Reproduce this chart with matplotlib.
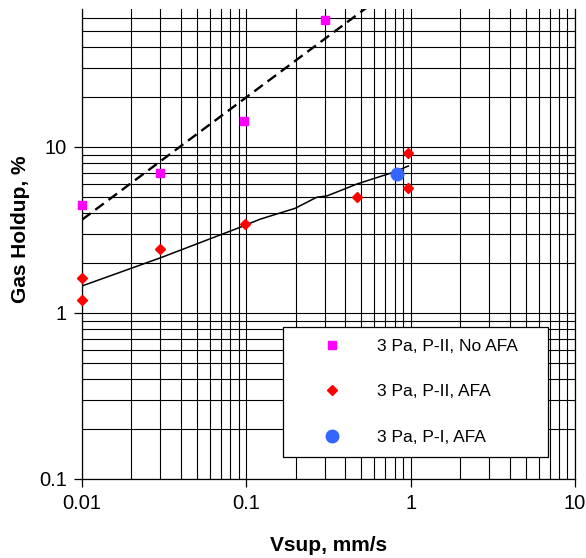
import numpy as np
import matplotlib
matplotlib.use('Agg')
import matplotlib.pyplot as plt
from matplotlib.ticker import LogLocator, NullFormatter, FixedLocator, FixedFormatter

plt.rcParams.update({
    'font.family': ['Liberation Sans', 'DejaVu Sans'],
    'font.size': 14,
    'axes.linewidth': 0.9,
})

# ── data ─────────────────────────────────────────────────────────────────────
v_noafa = [0.01, 0.03, 0.097, 0.30]
h_noafa = [4.5, 7.0, 14.3, 58.0]

v_afa2 = [0.01, 0.01, 0.03, 0.098, 0.47, 0.97, 0.97]
h_afa2 = [1.62, 1.19, 2.42, 3.45, 5.0, 9.2, 5.7]

v_afa1 = [0.82]
h_afa1 = [6.9]

# solid model curve (traced)
v_model = [0.01, 0.0306, 0.0915, 0.121, 0.146, 0.198, 0.268, 0.309,
           0.372, 0.470, 0.593, 0.785, 0.968]
h_model = [1.455, 2.165, 3.28, 3.67, 3.89, 4.27, 4.98, 5.07,
           5.45, 5.98, 6.44, 7.04, 7.68]

# dashed power-law trendline through the No-AFA points
b, a = np.polyfit(np.log10(v_noafa), np.log10(h_noafa), 1)
v_trend = np.array([0.01, 1.0])
h_trend = 10 ** a * v_trend ** b

# ── figure ───────────────────────────────────────────────────────────────────
fig = plt.figure(figsize=(5.86, 5.58), dpi=100)
ax = fig.add_axes([82 / 586, 1 - 479 / 558, 493 / 586, 470 / 558])
ax.set_xscale('log')
ax.set_yscale('log')
ax.set_xlim(0.01, 10)
ax.set_ylim(0.1, 67.8)

# grid: every major + minor line, black
ax.xaxis.set_minor_locator(LogLocator(base=10, subs=np.arange(2, 10)))
ax.yaxis.set_minor_locator(LogLocator(base=10, subs=np.arange(2, 10)))
ax.xaxis.set_minor_formatter(NullFormatter())
ax.yaxis.set_minor_formatter(NullFormatter())
ax.grid(True, which='both', color='k', lw=0.8)
ax.set_axisbelow(True)

ax.xaxis.set_major_locator(FixedLocator([0.01, 0.1, 1, 10]))
ax.xaxis.set_major_formatter(FixedFormatter(['0.01', '0.1', '1', '10']))
ax.yaxis.set_major_locator(FixedLocator([0.1, 1, 10]))
ax.yaxis.set_major_formatter(FixedFormatter(['0.1', '1', '10']))
ax.tick_params(which='major', direction='out', length=6, width=0.9,
               labelsize=14.5, pad=5)
ax.tick_params(which='minor', length=0)
ax.spines['top'].set_visible(False)

ax.plot(v_trend, h_trend, color='k', lw=1.7, ls=(0, (4.5, 2.5)), zorder=3)
ax.plot(v_model, h_model, color='k', lw=1.1, zorder=3)

ax.plot(v_noafa, h_noafa, ls='none', marker='s', ms=6.3, color='#ff00ff',
        mec='#ff00ff', label='3 Pa, P-II, No AFA', zorder=4, clip_on=False)
ax.plot(v_afa2, h_afa2, ls='none', marker='D', ms=5.3, color='#ff0000',
        mec='#ff0000', label='3 Pa, P-II, AFA', zorder=4, clip_on=False)
ax.plot(v_afa1, h_afa1, ls='none', marker='o', ms=9, color='#3366ff',
        mec='#3366ff', label='3 Pa, P-I, AFA', zorder=4, clip_on=False)

ax.set_xlabel('Vsup, mm/s', fontsize=15, fontweight='bold')
ax.set_ylabel('Gas Holdup, %', fontsize=15, fontweight='bold')
ax.xaxis.set_label_coords(0.5, -0.122)
ax.yaxis.set_label_coords(-0.105, 0.532)

leg = ax.legend(loc='lower left', bbox_to_anchor=(0.408, 0.047, 0.537, 0.276),
                mode='expand', fontsize=12.5, frameon=True, fancybox=False,
                edgecolor='k', framealpha=1, borderpad=0.7,
                labelspacing=1.74, handlelength=4.2, handletextpad=0.5,
                borderaxespad=0)
leg.get_frame().set_linewidth(0.9)
leg.set_zorder(5)

fig.savefig('out.png', dpi=100, facecolor='white')
plt.close(fig)
